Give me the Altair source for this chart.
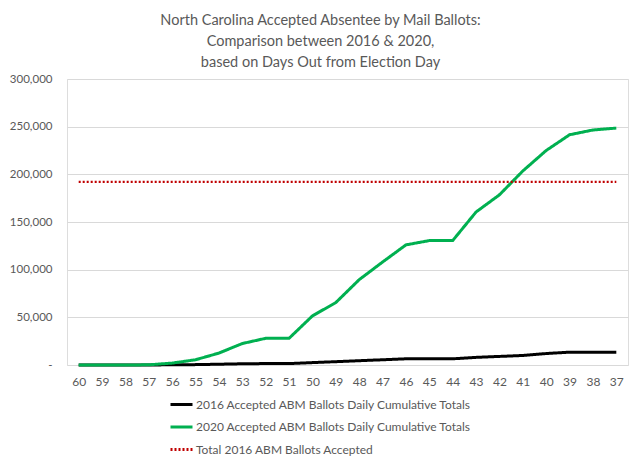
import altair as alt
import pandas as pd

days = [60, 59, 58, 57, 56, 55, 54, 53, 52, 51, 50, 49, 48, 47, 46, 45, 44, 43, 42, 41, 40, 39, 38, 37]
v2016 = [0, 0, 0, 50, 200, 400, 800, 1300, 1500, 1500, 2500, 3500, 4500, 5500, 6500, 6500, 6500,
         8000, 9000, 10000, 12000, 13500, 13500, 13500]
v2020 = [0, 0, 0, 200, 2000, 5500, 12500, 22500, 28000, 28000, 51500, 65500, 89500, 108000, 126000,
         130500, 130500, 160500, 178500, 203500, 225000, 241500, 246500, 248500]
total2016 = 192000

s16 = "2016 Accepted ABM Ballots Daily Cumulative Totals"
s20 = "2020 Accepted ABM Ballots Daily Cumulative Totals"
stot = "Total 2016 ABM Ballots Accepted"
series_names = [s16, s20, stot]

rows = []
for d, a, b in zip(days, v2016, v2020):
    rows.append({"day": str(d), "value": a, "series": s16})
    rows.append({"day": str(d), "value": b, "series": s20})
lines_df = pd.DataFrame(rows)
tot_df = pd.DataFrame({"day": [str(days[0]), str(days[-1])], "value": [total2016, total2016], "series": [stot, stot]})

FONT = "Lato"
GREY = "#595959"

x = alt.X("day:N", sort=[str(d) for d in days], title=None,
          scale=alt.Scale(paddingInner=0, paddingOuter=0),
          axis=alt.Axis(labelAngle=0, domain=False, ticks=False, labelPadding=11,
                        labelColor=GREY, labelFont=FONT, labelFontSize=12))
y = alt.Y("value:Q", title=None,
          scale=alt.Scale(domain=[0, 300000], nice=False),
          axis=alt.Axis(values=[0, 50000, 100000, 150000, 200000, 250000, 300000],
                        labelExpr="datum.value == 0 ? '-' : format(datum.value, ',')",
                        domain=False, ticks=False, labelPadding=15, gridColor="#d9d9d9",
                        gridWidth=1, labelColor=GREY, labelFont=FONT, labelFontSize=11.5))
color = alt.Color("series:N", title=None,
                  scale=alt.Scale(domain=series_names, range=["#000000", "#00b050", "#c00000"]),
                  legend=alt.Legend(orient="none", legendX=102, legendY=313, direction="vertical",
                                    symbolType="stroke", symbolSize=484, symbolStrokeWidth=3,
                                    labelFont=FONT, labelFontSize=12, labelColor=GREY,
                                    rowPadding=3.5, labelOffset=2, padding=0, labelLimit=400))
dash = alt.StrokeDash("series:N", title=None,
                      scale=alt.Scale(domain=series_names, range=[[1, 0], [1, 0], [2, 2]]),
                      legend=None)

base_lines = alt.Chart(lines_df).mark_line(strokeWidth=3).encode(x=x, y=y, color=color, strokeDash=dash)
tot_line = alt.Chart(tot_df).mark_line(strokeWidth=2.25).encode(x=x, y=y, color=color, strokeDash=dash)

chart = alt.layer(base_lines, tot_line).properties(
    width=561, height=286,
    autosize=alt.AutoSizeParams(type="none"),
    padding={"left": 59, "top": 71, "right": 4, "bottom": 91},
    title=alt.TitleParams(
        ["North Carolina Accepted Absentee by Mail Ballots:", "Comparison between 2016 & 2020,",
         "based on Days Out from Election Day"],
        anchor="middle", font=FONT, fontSize=14.5, fontWeight="normal", color=GREY,
        lineHeight=21, offset=3, dx=-27),
).configure_view(stroke=None).configure(background="white")

chart.save("out.html", embed_options={"renderer": "svg", "actions": False})
